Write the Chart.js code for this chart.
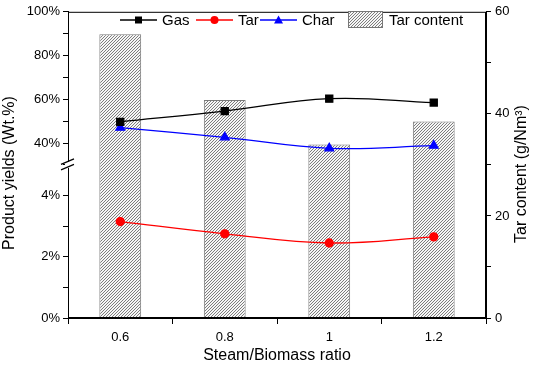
<!DOCTYPE html>
<html>
<head>
<meta charset="utf-8">
<script src="https://cdn.jsdelivr.net/npm/chart.js@4/dist/chart.umd.min.js"></script>
<style>
  html, body { margin: 0; padding: 0; background: #fff; }
</style>
</head>
<body>
<canvas id="myChart" width="533" height="366"></canvas>
<script>
// data
const ratios = ['0.6', '0.8', '1', '1.2'];
const gasYield = [49.7, 54.6, 60.3, 58.5];   // Wt.%
const charYield = [47.0, 42.6, 37.6, 38.8];  // Wt.%
const tarYield = [3.15, 2.75, 2.45, 2.65];   // Wt.%
const tarContent = [55.6, 42.7, 34.0, 38.5]; // g/Nm3

const fontName = '"Liberation Sans", Arial, sans-serif';

// diagonal hatch for the bars
function makeHatch() {
    const c = document.createElement('canvas');
    c.width = 3;
    c.height = 3;
    const cx = c.getContext('2d');
    cx.fillStyle = '#f6f6f6';
    cx.fillRect(0, 0, 3, 3);
    cx.strokeStyle = '#5e5e5e';
    cx.lineWidth = 0.8;
    cx.beginPath();
    cx.moveTo(-1, 4); cx.lineTo(4, -1);
    cx.moveTo(-1, 1); cx.lineTo(1, -1);
    cx.moveTo(2, 4); cx.lineTo(4, 2);
    cx.stroke();
    return cx.createPattern(c, 'repeat');
}

const ctx = document.getElementById('myChart').getContext('2d');
const hatch = makeHatch();

function drawMarker(c, style, x, y, color) {
    c.fillStyle = color;
    c.beginPath();
    if (style === 'rect') {
        c.rect(x - 3.5, y - 3.5, 7, 7);
    } else if (style === 'circle') {
        c.arc(x, y, 4, 0, Math.PI * 2);
    } else {
        c.moveTo(x, y - 4.5);
        c.lineTo(x + 4.5, y + 3.5);
        c.lineTo(x - 4.5, y + 3.5);
        c.closePath();
    }
    c.fill();
}

const extras = {
    id: 'extras',
    afterDraw(chart) {
        const c = chart.ctx;
        const a = chart.chartArea;
        c.save();

        // frame
        c.strokeStyle = '#000';
        c.lineWidth = 1;
        c.strokeRect(a.left + 0.5, a.top + 0.5, a.right - a.left - 1, a.bottom - a.top - 1);

        // axis break marks, where the two left scales meet
        const yb = chart.scales.yL.top;
        c.fillStyle = '#fff';
        c.fillRect(a.left - 3, yb - 3, 6, 6);
        c.strokeStyle = '#000';
        c.lineWidth = 1.2;
        c.beginPath();
        c.moveTo(a.left - 7, yb - 0.5); c.lineTo(a.left + 6, yb - 6);
        c.moveTo(a.left - 7, yb + 5); c.lineTo(a.left + 6, yb - 0.5);
        c.stroke();

        // axis titles
        c.fillStyle = '#000';
        c.font = '16px ' + fontName;
        c.textAlign = 'center';
        c.textBaseline = 'middle';
        c.fillText('Steam/Biomass ratio', (a.left + a.right) / 2, 356);

        c.save();
        c.translate(10, 173);
        c.rotate(-Math.PI / 2);
        c.fillText('Product yields (Wt.%)', 0, 0);
        c.restore();

        c.save();
        c.translate(522, 174);
        c.rotate(-Math.PI / 2);
        c.fillText('Tar content (g/Nm\u00B3)', 0, 0);
        c.restore();

        // legend inside the plot
        const ly = 20;
        c.font = '15px ' + fontName;
        c.textAlign = 'left';
        const items = [
            { x: 120, label: 'Gas', color: '#000000', style: 'rect' },
            { x: 196, label: 'Tar', color: '#ff0000', style: 'circle' },
            { x: 260, label: 'Char', color: '#0000ff', style: 'triangle' }
        ];
        items.forEach(it => {
            c.strokeStyle = it.color;
            c.lineWidth = 1.3;
            c.beginPath();
            c.moveTo(it.x, ly);
            c.lineTo(it.x + 37, ly);
            c.stroke();
            drawMarker(c, it.style, it.x + 18.5, ly, it.color);
            c.fillStyle = '#000';
            c.fillText(it.label, it.x + 42, ly + 1);
        });
        c.fillStyle = hatch;
        c.fillRect(348, 11, 35, 17);
        c.strokeStyle = '#777';
        c.lineWidth = 1;
        c.strokeRect(348.5, 11.5, 34, 16);
        c.fillStyle = '#000';
        c.fillText('Tar content', 389, ly + 1);

        c.restore();
    }
};

const tickFont = { family: fontName, size: 13 };
const axisGrid = { display: true, drawOnChartArea: false, drawTicks: true, tickLength: 5, color: '#000', tickColor: '#000' };

const myChart = new Chart(ctx, {
    type: 'bar',
    data: {
        labels: ratios,
        datasets: [
            {
                type: 'line', label: 'Gas', data: gasYield, yAxisID: 'yU', order: 1,
                borderColor: '#000', backgroundColor: '#000', borderWidth: 1.3,
                pointStyle: 'rect', pointRadius: 5, tension: 0.4
            },
            {
                type: 'line', label: 'Tar', data: tarYield, yAxisID: 'yL', order: 1,
                borderColor: '#ff0000', backgroundColor: '#ff0000', borderWidth: 1.3,
                pointStyle: 'circle', pointRadius: 4, tension: 0.4
            },
            {
                type: 'line', label: 'Char', data: charYield, yAxisID: 'yU', order: 1,
                borderColor: '#0000ff', backgroundColor: '#0000ff', borderWidth: 1.3,
                pointStyle: 'triangle', pointRadius: 5, tension: 0.4
            },
            {
                type: 'bar', label: 'Tar content', data: tarContent, yAxisID: 'yR', order: 2,
                backgroundColor: hatch, borderColor: '#7a7a7a', borderWidth: 1,
                barPercentage: 0.4, categoryPercentage: 1
            }
        ]
    },
    options: {
        responsive: false,
        animation: false,
        layout: { padding: { top: 7, left: 0, right: 0, bottom: 0 } },
        plugins: { legend: { display: false }, tooltip: { enabled: false } },
        scales: {
            x: {
                type: 'category', offset: true,
                grid: { ...axisGrid, offset: true, tickLength: 6 },
                border: { color: '#000', width: 1 },
                ticks: { font: tickFont, color: '#000', padding: 6 },
                afterFit: s => { s.height = 48; }
            },
            yL: {
                position: 'left', stack: 'left', stackWeight: 1,
                min: 0, max: 5,
                grid: axisGrid,
                border: { color: '#000', width: 1 },
                ticks: {
                    stepSize: 1, autoSkip: false, font: tickFont, color: '#000', padding: 3,
                    callback: v => (v < 5 && v % 2 === 0) ? v + '%' : ''
                },
                afterFit: s => { s.width = 68; }
            },
            yU: {
                position: 'left', stack: 'left', stackWeight: 1,
                min: 30, max: 100,
                grid: axisGrid,
                border: { color: '#000', width: 1 },
                ticks: {
                    stepSize: 10, autoSkip: false, font: tickFont, color: '#000', padding: 3,
                    callback: v => (v > 30 && v % 20 === 0) ? v + '%' : ''
                },
                afterFit: s => { s.width = 68; }
            },
            yR: {
                position: 'right',
                min: 0, max: 60,
                grid: axisGrid,
                border: { color: '#000', width: 1 },
                ticks: {
                    stepSize: 10, autoSkip: false, font: tickFont, color: '#000', padding: 4,
                    callback: v => v % 20 === 0 ? v : ''
                },
                afterFit: s => { s.width = 47; }
            }
        }
    },
    plugins: [extras]
});
</script>
</body>
</html>
